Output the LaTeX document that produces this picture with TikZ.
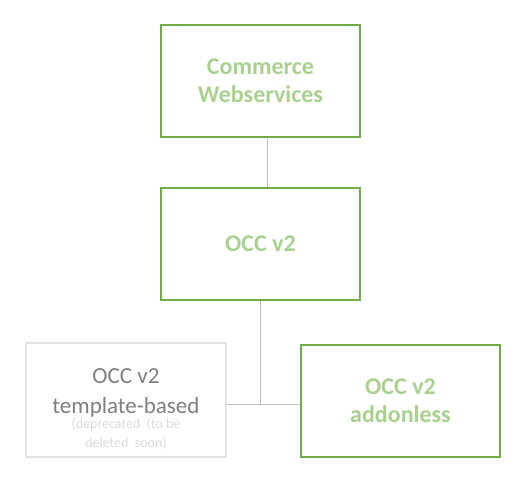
\documentclass[tikz,border=0pt]{standalone}
\usepackage{fontspec}
\setmainfont{Carlito}
\usetikzlibrary{positioning}
\definecolor{ogreen}{HTML}{70AD47}
\definecolor{lgreen}{HTML}{A9D18E}
\definecolor{lgray}{HTML}{E4E3E3}
\definecolor{mgray}{HTML}{7F7F7F}
\definecolor{pgray}{HTML}{DADADA}
\definecolor{cgray}{HTML}{BFBFBF}

\begin{document}
\begin{tikzpicture}[x=1pt,y=1pt,node distance=162.5pt,
  greenbox/.style={draw=ogreen,line width=2pt,minimum width=199pt,minimum height=112pt,
    inner sep=0pt,align=center,text=lgreen,font=\fontsize{24}{28}\selectfont\bfseries},
  oldbox/.style={draw=lgray,line width=2pt,minimum width=200pt,minimum height=114pt,
    inner sep=0pt,align=center,text=mgray,font=\fontsize{23}{30}\selectfont},
  link/.style={draw=cgray,line width=1pt}]

  \useasboundingbox (0,0) rectangle (520,-496);

  \node[greenbox]  (cws)    at (260.5,-81)   {Commerce\\Webservices};
  \node[greenbox]  (occ)    [below of=cws]   {OCC v2};
  \node[oldbox]    (tpl)    at (126,-400)    {\rule{0pt}{32pt}OCC v2\\template-based\\[-15pt]
    {\fontsize{14}{19}\selectfont\color{pgray}(deprecated \ (to be}\\[-11pt]
    {\fontsize{14}{19}\selectfont\color{pgray}deleted \ soon)}};
  \node[greenbox]  (addon)  at (400.5,-400.5) {OCC v2\\addonless};

  \path[link]
        ([xshift=7pt]cws.south) -- ([xshift=7pt]occ.north)
        (occ.south) -- (occ.south |- 0,-404)
        ([yshift=-4pt]tpl.east) -- ([yshift=-4pt]tpl.east -| addon.west);
\end{tikzpicture}
\end{document}
